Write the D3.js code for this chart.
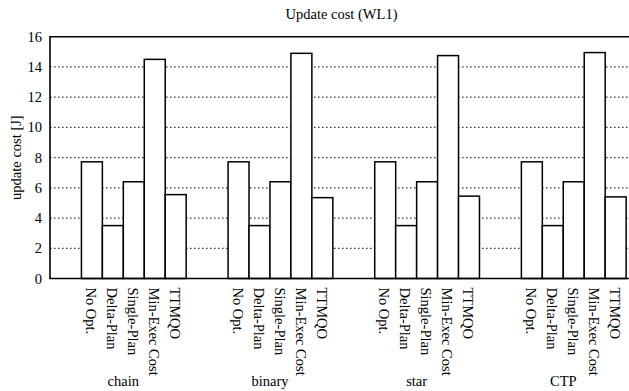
<!DOCTYPE html>
<html>
<head>
<meta charset="utf-8">
<script src="https://cdn.jsdelivr.net/npm/d3@7"></script>
<style>
  html, body { margin: 0; padding: 0; background: #fff; }
  svg { display: block; }
  text { font-family: "Liberation Serif", "Times New Roman", serif; fill: #000; }
</style>
</head>
<body>
<svg id="chart" width="629" height="391"></svg>
<script>
// ---- data ----
const groups = ["chain", "binary", "star", "CTP"];
const methods = ["No Opt.", "Delta-Plan", "Single-Plan", "Min-Exec Cost", "TTMQO"];
const noOpt      = [7.72, 7.72, 7.72, 7.72];
const deltaPlan  = [3.5, 3.5, 3.5, 3.5];
const singlePlan = [6.4, 6.4, 6.4, 6.4];
const minExec    = [14.5, 14.9, 14.75, 14.95];
const ttmqo      = [5.55, 5.35, 5.45, 5.4];
const yTicks = [0, 2, 4, 6, 8, 10, 12, 14, 16];
const title = "Update cost (WL1)";
const yLabel = "update cost [J]";

const seriesValues = [noOpt, deltaPlan, singlePlan, minExec, ttmqo];

// ---- layout ----
const svg = d3.select("#chart");
const plotLeft = 50, plotTop = 36.7, plotBottom = 278.5;
const slot = 20.95;
const nSlots = 29; // 1.5 + 7*3 + 5 + 1.5
const x = d3.scaleLinear().domain([0, nSlots]).range([plotLeft, plotLeft + nSlots * slot]);
const y = d3.scaleLinear().domain([0, 16]).range([plotBottom, plotTop]);
const fs = 14.5;

const bars = [];
groups.forEach((g, gi) => {
  methods.forEach((m, mi) => {
    bars.push({ g, gi, m, mi, v: seriesValues[mi][gi], pos: 1.5 + 7 * gi + mi });
  });
});

// grid
svg.append("g").selectAll("line")
  .data(yTicks.filter(t => t > 0 && t < 16))
  .join("line")
  .attr("x1", plotLeft).attr("x2", 629)
  .attr("y1", d => y(d)).attr("y2", d => y(d))
  .attr("stroke", "#333").attr("stroke-width", 1.2)
  .attr("stroke-dasharray", "1.5,2.5");

// bars
svg.append("g").selectAll("rect")
  .data(bars)
  .join("rect")
  .attr("x", d => x(d.pos))
  .attr("width", d => x(d.pos + 1) - x(d.pos))
  .attr("y", d => y(d.v))
  .attr("height", d => y(0) - y(d.v))
  .attr("fill", "#fff")
  .attr("stroke", "#000").attr("stroke-width", 1.5);

// frame
const frame = svg.append("g").attr("stroke", "#000").attr("stroke-width", 1.6).attr("fill", "none");
frame.append("line").attr("x1", plotLeft).attr("x2", plotLeft).attr("y1", y(16)).attr("y2", y(0));
frame.append("line").attr("x1", plotLeft - 0.8).attr("x2", 629).attr("y1", y(16)).attr("y2", y(16));
frame.append("line").attr("x1", plotLeft - 0.8).attr("x2", 629).attr("y1", y(0)).attr("y2", y(0));

// y tick labels
svg.append("g").selectAll("text")
  .data(yTicks)
  .join("text")
  .attr("x", 42).attr("y", d => y(d))
  .attr("dy", "0.35em")
  .attr("text-anchor", "end")
  .style("font-size", fs + "px")
  .text(d => d);

// x tick labels (rotated)
svg.append("g").selectAll("text")
  .data(bars)
  .join("text")
  .attr("transform", d => `translate(${x(d.pos + 0.5) - 1},${287.5}) rotate(90)`)
  .attr("dy", "0.33em")
  .attr("text-anchor", "start")
  .style("font-size", fs + "px")
  .text(d => d.m);

// group labels
svg.append("g").selectAll("text")
  .data(groups)
  .join("text")
  .attr("x", (d, i) => x(3.5 + 7 * i))
  .attr("y", 386)
  .attr("text-anchor", "middle")
  .style("font-size", fs + "px")
  .text(d => d);

// title
svg.append("text")
  .attr("x", 341.5).attr("y", 18.5)
  .attr("text-anchor", "middle")
  .style("font-size", fs + "px")
  .text(title);

// y axis label
svg.append("text")
  .attr("transform", `translate(21,${(y(0) + y(16)) / 2}) rotate(-90)`)
  .attr("text-anchor", "middle")
  .style("font-size", fs + "px")
  .text(yLabel);
</script>
</body>
</html>
